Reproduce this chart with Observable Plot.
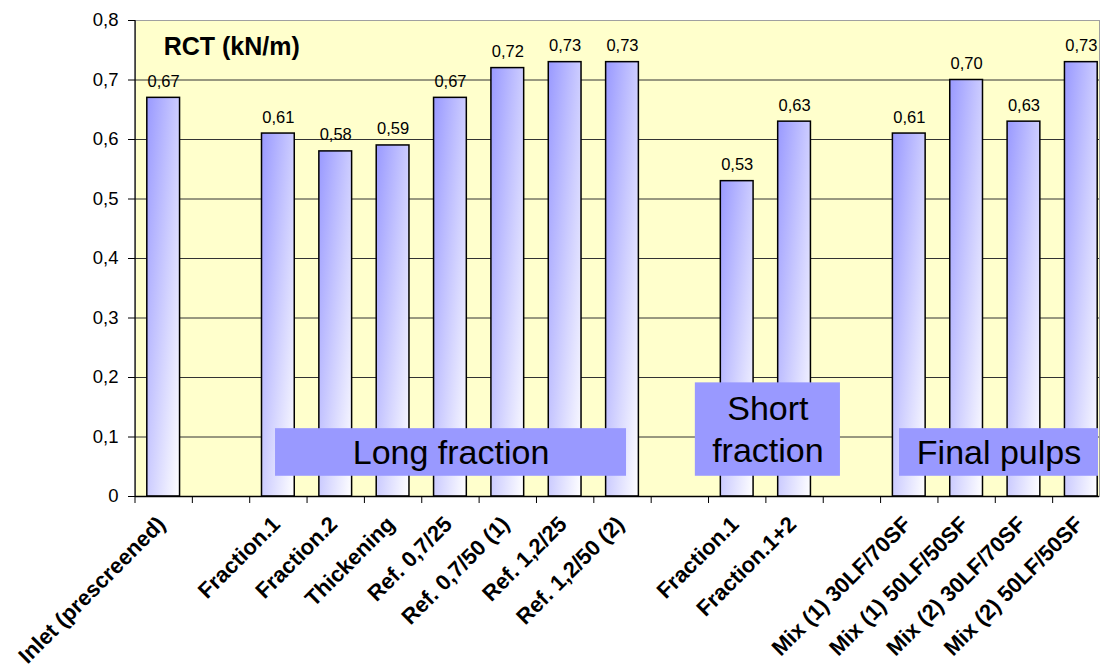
<!DOCTYPE html>
<html>
<head>
<meta charset="utf-8">
<script src="https://cdn.jsdelivr.net/npm/d3@7"></script>
<script src="https://cdn.jsdelivr.net/npm/@observablehq/plot@0.6"></script>
<style>
  html, body { margin: 0; padding: 0; background: #fff; overflow: hidden; }
</style>
</head>
<body>
<div id="chart"></div>
<script>
// One slot per category; empty names are spacer slots between the groups.
const categories = [
  "Inlet (prescreened)", "",
  "Fraction.1", "Fraction.2", "Thickening", "Ref. 0,7/25", "Ref. 0,7/50 (1)", "Ref. 1,2/25", "Ref. 1,2/50 (2)", "",
  "Fraction.1", "Fraction.1+2", "",
  "Mix (1) 30LF/70SF", "Mix (1) 50LF/50SF", "Mix (2) 30LF/70SF", "Mix (2) 50LF/50SF"
];

// RCT in kN/m for each slot (null = spacer).
const rct = [
  0.67, null,
  0.61, 0.58, 0.59, 0.67, 0.72, 0.73, 0.73, null,
  0.53, 0.63, null,
  0.61, 0.70, 0.63, 0.73
];

const yTicks = [0, 0.1, 0.2, 0.3, 0.4, 0.5, 0.6, 0.7, 0.8];

// Group captions: slot span (x1..x2) and value span (y1..y2) of each caption box.
const groupNames = ["Long fraction", "Short\nfraction", "Final pulps"];
const groupX1 = [2.45, 9.77, 13.33];
const groupX2 = [8.57, 12.30, 16.80];
const groupY1 = [0.034, 0.034, 0.034];
const groupY2 = [0.114, 0.191, 0.114];

const unitTitle = "RCT (kN/m)";

const bars = categories
  .map((label, slot) => ({slot, label, value: rct[slot]}))
  .filter(d => d.value != null);

const groups = groupNames.map((name, i) => ({
  name, x1: groupX1[i], x2: groupX2[i], y1: groupY1[i], y2: groupY2[i]
}));

const comma = s => s.replace(".", ",");
const fmtTick = v => v === 0 ? "0" : comma(d3.format(".1f")(v));
const fmtValue = v => comma(d3.format(".2f")(v));

const font = "'Liberation Sans', Arial, Helvetica, sans-serif";

const svg = Plot.plot({
  width: 1106,
  height: 666,
  marginLeft: 135,
  marginRight: 7,
  marginTop: 20,
  marginBottom: 170,
  style: {fontFamily: font, fontSize: "16px", color: "#000", background: "#fff"},
  x: {type: "linear", domain: [0, categories.length], range: [134.5, 1109.5], axis: null},
  y: {domain: [0, 0.8], axis: null},
  marks: [
    // plot area
    Plot.frame({fill: "#ffffcc", stroke: "#a0a0a0", strokeWidth: 1}),
    Plot.ruleY(yTicks.filter(t => t > 0 && t < 0.8), {stroke: "#333", strokeWidth: 1}),
    // axes
    Plot.axisY({ticks: yTicks, tickFormat: fmtTick, tickSize: 7, tickPadding: 10, fontSize: 18.5, label: null}),
    Plot.axisX({ticks: categories.map((_, i) => i), tickFormat: () => "", tickSize: 7, label: null}),
    Plot.ruleX([0], {stroke: "#000", strokeWidth: 1.2}),
    // bars
    Plot.rect(bars, {
      x1: "slot", x2: d => d.slot + 1, y1: 0, y2: "value",
      insetLeft: 12.3, insetRight: 12.3,
      fill: "url(#barGrad)", stroke: "#000", strokeWidth: 1.5
    }),
    Plot.ruleY([0], {stroke: "#000", strokeWidth: 1.5}),
    // value labels
    Plot.text(bars, {
      x: d => d.slot + 0.5, y: "value", text: d => fmtValue(d.value),
      lineAnchor: "bottom", dy: -11, fontSize: 16.5, fill: "#000"
    }),
    // category labels
    Plot.text(bars, {
      x: d => d.slot + 0.5, y: 0, text: "label",
      rotate: -45, textAnchor: "end", lineAnchor: "bottom",
      dx: 3, dy: 29, fontSize: 22, fontWeight: "bold", fill: "#000"
    }),
    // unit title
    Plot.text([unitTitle], {
      x: 0.5, y: 0.755, text: d => d, textAnchor: "start", lineAnchor: "middle",
      fontSize: 25, fontWeight: "bold", fill: "#000"
    }),
    // group caption boxes
    Plot.rect(groups, {x1: "x1", x2: "x2", y1: "y1", y2: "y2", fill: "#9999ff"}),
    Plot.text(groups, {
      x: d => (d.x1 + d.x2) / 2, y: d => (d.y1 + d.y2) / 2, text: "name",
      lineAnchor: "middle", lineHeight: 1.22, dy: -2, fontSize: 34, fill: "#000"
    })
  ]
});

// diagonal fill for the bars: blue at the top-left, white at the bottom-right
const defs = d3.select(svg).insert("defs", ":first-child");
const grad = defs.append("linearGradient")
  .attr("id", "barGrad")
  .attr("x1", 0).attr("y1", 0).attr("x2", 1).attr("y2", 1);
grad.append("stop").attr("offset", "0%").attr("stop-color", "#9999ff");
grad.append("stop").attr("offset", "100%").attr("stop-color", "#ffffff");

document.getElementById("chart").appendChild(svg);
</script>
</body>
</html>
